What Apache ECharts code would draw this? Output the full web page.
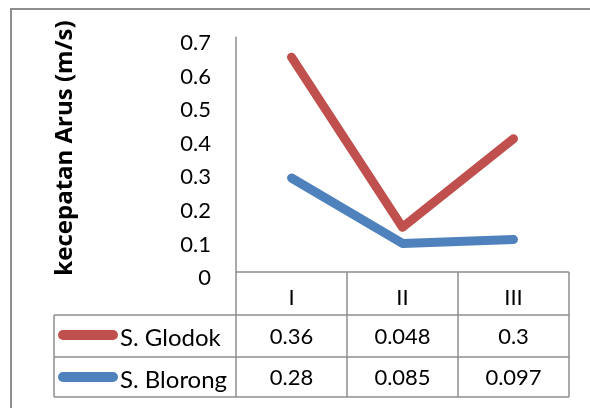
<!DOCTYPE html>
<html><head><meta charset="utf-8">
<script src="https://cdn.jsdelivr.net/npm/echarts@6/dist/echarts.min.js"></script>
<style>html,body{margin:0;padding:0;background:#fff}#c{width:590px;height:408px}</style>
</head><body><div id="c"></div>
<script>
var categories = ['I', 'II', 'III'];
var glodok = [0.36, 0.048, 0.3];
var blorong = [0.28, 0.085, 0.097];
var seriesNames = ['S. Glodok', 'S. Blorong'];
var yTitle = 'kecepatan Arus (m/s)';

var RED = '#C0504D', BLUE = '#4F81BD', GRID = '#8E8E8E';
var FONT = 'Lato, "Open Sans", sans-serif';
var L = 236, R = 569, T = 37, B = 272;
var chart = echarts.init(document.getElementById('c'));

function buildGraphic() {
  var g = [];
  var rowH = [B, 315, 357, 397];
  var colX = [L];
  var bw = (R - L) / categories.length;
  for (var i = 1; i <= categories.length; i++) colX.push(L + bw * i);
  var lw = 1.5;
  g.push({type:'polyline', shape:{points:[[11,410],[11,9],[592,9]]}, style:{stroke:GRID, lineWidth:2, fill:null}});
  g.push({type:'line', shape:{x1:L,y1:rowH[0],x2:R,y2:rowH[0]}, style:{stroke:GRID,lineWidth:lw}});
  for (var r = 1; r < rowH.length; r++) {
    g.push({type:'line', shape:{x1:54,y1:rowH[r],x2:R,y2:rowH[r]}, style:{stroke:GRID,lineWidth:lw}});
  }
  g.push({type:'line', shape:{x1:54,y1:rowH[1],x2:54,y2:rowH[3]}, style:{stroke:GRID,lineWidth:lw}});
  for (var c = 0; c < colX.length; c++) {
    g.push({type:'line', shape:{x1:colX[c],y1:rowH[0],x2:colX[c],y2:rowH[3]}, style:{stroke:GRID,lineWidth:lw}});
  }
  var rows = [glodok, blorong];
  var colors = [RED, BLUE];
  var rowTextY = [337, 378];
  for (var i = 0; i < categories.length; i++) {
    var cx = colX[i] + bw / 2;
    g.push({type:'text', x:cx, y:298, style:{text:categories[i], font:'22px '+FONT, fill:'#000', align:'center', verticalAlign:'middle'}});
    for (var s = 0; s < rows.length; s++) {
      g.push({type:'text', x:cx, y:rowTextY[s], style:{text:String(rows[s][i]), font:'22px '+FONT, fill:'#000', align:'center', verticalAlign:'middle'}});
    }
  }
  var legY = [335, 377];
  for (var s = 0; s < rows.length; s++) {
    g.push({type:'line', shape:{x1:63,y1:legY[s],x2:113,y2:legY[s]}, style:{stroke:colors[s], lineWidth:10, lineCap:'round'}});
    g.push({type:'text', x:120, y:legY[s]+3, style:{text:seriesNames[s], font:'24px '+FONT, fill:'#000', align:'left', verticalAlign:'middle'}});
  }
  g.push({type:'text', x:65, y:148, rotation:Math.PI/2, style:{text:yTitle, font:'bold 24px "Open Sans", sans-serif', fill:'#000', align:'center', verticalAlign:'middle'}});
  return g;
}

chart.setOption({
  animation:false,
  grid:{left:L, right:590-R, top:T, bottom:408-B},
  xAxis:{type:'category', data:categories, boundaryGap:true,
    axisLine:{show:false}, axisTick:{show:false}, axisLabel:{show:false}, splitLine:{show:false}},
  yAxis:{type:'value', min:0, max:0.7, interval:0.1,
    axisLine:{show:true, lineStyle:{color:GRID, width:1.5}}, axisTick:{show:false}, splitLine:{show:false},
    axisLabel:{color:'#000', fontSize:22, fontFamily:FONT, margin:25, verticalAlign:'top', lineHeight:12,
      formatter:function(v){return String(Math.round(v*10)/10);}}},
  series:[
    {name:seriesNames[1], type:'line', stack:'total', data:blorong, symbol:'none',
      lineStyle:{color:BLUE, width:9, cap:'round', join:'round'}, itemStyle:{color:BLUE}},
    {name:seriesNames[0], type:'line', stack:'total', data:glodok, symbol:'none',
      lineStyle:{color:RED, width:9, cap:'round', join:'round'}, itemStyle:{color:RED}}
  ],
  graphic:buildGraphic()
});
</script></body></html>
